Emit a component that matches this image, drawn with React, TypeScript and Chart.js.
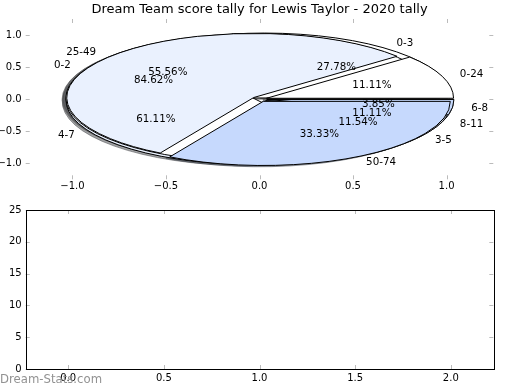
import React, { useEffect, useRef } from "react";
import { Chart, registerables } from "chart.js";

Chart.register(...registerables);
Chart.defaults.font.family = "'DejaVu Sans', sans-serif";

const TITLE = "Dream Team score tally for Lewis Taylor - 2020 tally";
const WATERMARK = "Dream-Stats.com";

// pies, in drawing order (last one on top)
const PIE_A_LABELS = ["0-3", "4-7", "8-11"];
const PIE_A_VALUES = [5, 11, 2];
const PIE_B_LABELS = ["0-2", "3-5", "6-8"];
const PIE_B_VALUES = [22, 3, 1];
const PIE_C_LABELS = ["0-24", "25-49", "50-74"];
const PIE_C_VALUES = [2, 10, 6];
const EXPLODE = [0.04, 0.04, 0.04];
const SLICE_COLORS = ["#ffffff", "#eaf1fe", "#c6d9fd"];

const PIE_TICKS = [-1, -0.5, 0, 0.5, 1];
const LOWER_X_TICKS = [0, 0.5, 1, 1.5, 2];
const LOWER_Y_TICKS = [0, 5, 10, 15, 20, 25];

const FONT = "'DejaVu Sans', sans-serif";
const TICK_COLOR = "#bbbbbb";

const fmt1 = (v: number) => (v < 0 ? "\u2212" : "") + Math.abs(v).toFixed(1);

function hexToRgb(h: string) {
  const n = parseInt(h.slice(1), 16);
  return [(n >> 16) & 255, (n >> 8) & 255, n & 255];
}

function drawInnerTicks(chart: any, xt: number[], yt: number[]) {
  const ctx = chart.ctx;
  const { left, right, top, bottom } = chart.chartArea;
  const xs = chart.scales.x;
  const ys = chart.scales.y;
  const L = 4;
  ctx.save();
  ctx.strokeStyle = TICK_COLOR;
  ctx.lineWidth = 1;
  ctx.beginPath();
  xt.forEach((v) => {
    const x = Math.round(xs.getPixelForValue(v)) + 0.5;
    ctx.moveTo(x, bottom);
    ctx.lineTo(x, bottom - L);
    ctx.moveTo(x, top);
    ctx.lineTo(x, top + L);
  });
  yt.forEach((v) => {
    const y = Math.round(ys.getPixelForValue(v)) + 0.5;
    ctx.moveTo(left, y);
    ctx.lineTo(left + L, y);
    ctx.moveTo(right, y);
    ctx.lineTo(right - L, y);
  });
  ctx.stroke();
  ctx.restore();
}

const piePlugin = {
  id: "piePlugin",
  afterDraw(chart: any) {
    const ctx = chart.ctx;
    const xs = chart.scales.x;
    const ys = chart.scales.y;
    const px = (v: number) => xs.getPixelForValue(v);
    const py = (v: number) => ys.getPixelForValue(v);
    const rx = px(1) - px(0);
    const ry = py(0) - py(1);
    const pies = [
      { labels: PIE_A_LABELS, values: PIE_A_VALUES },
      { labels: PIE_B_LABELS, values: PIE_B_VALUES },
      { labels: PIE_C_LABELS, values: PIE_C_VALUES },
    ];
    const wedges: any[] = [];
    pies.forEach((p) => {
      const total = p.values.reduce((a, b) => a + b, 0);
      let acc = 0;
      p.values.forEach((v, i) => {
        const t1 = (acc / total) * 360;
        acc += v;
        const t2 = (acc / total) * 360;
        const tm = ((t1 + t2) / 2) * Math.PI / 180;
        const e = EXPLODE[i];
        wedges.push({
          t1, t2, tm,
          ox: e * Math.cos(tm),
          oy: e * Math.sin(tm),
          color: SLICE_COLORS[i],
          label: p.labels[i],
          pct: ((v / total) * 100).toFixed(2) + "%",
        });
      });
    });
    const path = (w: any, dx: number, dy: number) => {
      const cx = px(w.ox + dx);
      const cy = py(w.oy + dy);
      ctx.beginPath();
      ctx.moveTo(cx, cy);
      ctx.ellipse(cx, cy, rx, ry, 0, -w.t1 * Math.PI / 180, -w.t2 * Math.PI / 180, true);
      ctx.closePath();
    };
    ctx.save();
    ctx.lineJoin = "miter";
    // shadows
    wedges.forEach((w) => {
      const [r, g, b] = hexToRgb(w.color);
      const c = `rgba(${Math.round(r * 0.3)},${Math.round(g * 0.3)},${Math.round(b * 0.3)},0.5)`;
      path(w, -0.02, -0.02);
      ctx.fillStyle = c;
      ctx.fill();
      ctx.strokeStyle = c;
      ctx.lineWidth = 1;
      ctx.stroke();
    });
    // wedges
    wedges.forEach((w) => {
      path(w, 0, 0);
      ctx.fillStyle = w.color;
      ctx.fill();
      ctx.strokeStyle = "#000000";
      ctx.lineWidth = 1;
      ctx.stroke();
    });
    // texts
    ctx.fillStyle = "#000000";
    ctx.font = `10.3px ${FONT}`;
    ctx.textBaseline = "middle";
    wedges.forEach((w) => {
      const lx = w.ox + 1.1 * Math.cos(w.tm);
      const ly = w.oy + 1.1 * Math.sin(w.tm);
      ctx.textAlign = lx > 0 ? "left" : "right";
      ctx.fillText(w.label, px(lx), py(ly));
      const qx = w.ox + 0.6 * Math.cos(w.tm);
      const qy = w.oy + 0.6 * Math.sin(w.tm);
      ctx.textAlign = "center";
      ctx.fillText(w.pct, px(qx), py(qy));
    });
    // title
    ctx.font = `13px ${FONT}`;
    ctx.textAlign = "center";
    ctx.fillText(TITLE, (chart.chartArea.left + chart.chartArea.right) / 2, 10);
    ctx.restore();
    drawInnerTicks(chart, PIE_TICKS, PIE_TICKS);
  },
};

const lowerPlugin = {
  id: "lowerPlugin",
  afterDraw(chart: any) {
    const ctx = chart.ctx;
    drawInnerTicks(chart, LOWER_X_TICKS, LOWER_Y_TICKS);
    const { left, right, top, bottom } = chart.chartArea;
    ctx.save();
    ctx.strokeStyle = "#000000";
    ctx.lineWidth = 1;
    ctx.strokeRect(Math.round(left) + 0.5, Math.round(top) + 0.5, Math.round(right - left), Math.round(bottom - top));
    ctx.fillStyle = "#929292";
    ctx.font = `11.7px ${FONT}`;
    ctx.textAlign = "left";
    ctx.textBaseline = "middle";
    ctx.fillText(WATERMARK, 0, 380);
    ctx.restore();
  },
};

function axis(ticks: number[], min: number, max: number, pad: number, fmt: (v: number) => string, fit: (s: any) => void) {
  return {
    type: "linear" as const,
    min,
    max,
    grid: { display: false, drawTicks: false },
    border: { display: false },
    ticks: {
      color: "#000000",
      font: { size: 10, family: FONT },
      padding: pad,
      autoSkip: false,
      maxRotation: 0,
      callback: (v: any) => fmt(Number(v)),
    },
    afterBuildTicks: (s: any) => {
      s.ticks = ticks.map((v) => ({ value: v }));
    },
    afterFit: fit,
  };
}

export default function App() {
  const topRef = useRef<HTMLCanvasElement>(null);
  const botRef = useRef<HTMLCanvasElement>(null);

  useEffect(() => {
    const common = {
      responsive: false,
      animation: false as const,
      devicePixelRatio: 1,
      events: [] as any[],
      plugins: { legend: { display: false }, tooltip: { enabled: false }, title: { display: false } },
    };
    const top = new Chart(topRef.current!, {
      type: "scatter",
      data: { datasets: [{ data: [] }] },
      options: {
        ...common,
        layout: { padding: { top: 19, left: 0, right: 26.7, bottom: 190.7 } },
        scales: {
          x: { ...axis(PIE_TICKS, -1.25, 1.25, 1, fmt1, (s: any) => { s.height = 20; }), position: "bottom" },
          y: { ...axis(PIE_TICKS, -1.25, 1.25, 4, fmt1, (s: any) => { s.width = 25.7; }), position: "left" },
        },
      } as any,
      plugins: [piePlugin],
    });
    const bot = new Chart(botRef.current!, {
      type: "scatter",
      data: { datasets: [{ data: [] }] },
      options: {
        ...common,
        layout: { padding: { top: 210, left: 0, right: 26.7, bottom: 1 } },
        scales: {
          x: { ...axis(LOWER_X_TICKS, -0.2222, 2.2222, 3, fmt1, (s: any) => { s.height = 20; }), position: "bottom" },
          y: { ...axis(LOWER_Y_TICKS, 0, 25, 4, (v) => String(v), (s: any) => { s.width = 25.7; }), position: "left" },
        },
      } as any,
      plugins: [lowerPlugin],
    });
    return () => {
      top.destroy();
      bot.destroy();
    };
  }, []);

  const cs: React.CSSProperties = { position: "absolute", left: 0, top: 0 };
  return (
    <div style={{ position: "absolute", left: 0, top: 0, width: 520, height: 390, background: "#ffffff" }}>
      <canvas ref={botRef} width={520} height={390} style={cs} />
      <canvas ref={topRef} width={520} height={390} style={cs} />
    </div>
  );
}
